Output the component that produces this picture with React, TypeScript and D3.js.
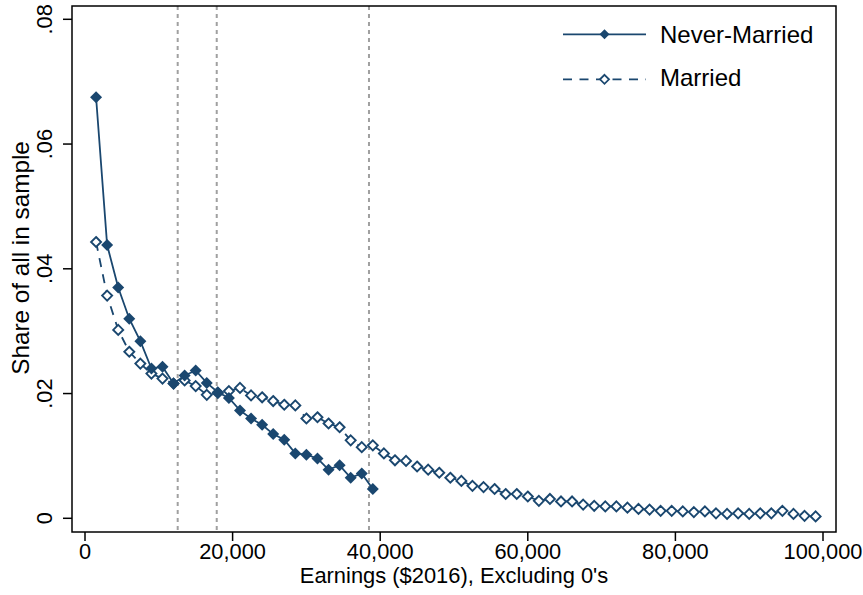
import React from "react";
import * as d3 from "d3";

const earningsBins = [
  1500, 3000, 4500, 6000, 7500, 9000, 10500, 12000, 13500, 15000, 16500, 18000,
  19500, 21000, 22500, 24000, 25500, 27000, 28500, 30000, 31500, 33000, 34500,
  36000, 37500, 39000, 40500, 42000, 43500, 45000, 46500, 48000, 49500, 51000,
  52500, 54000, 55500, 57000, 58500, 60000, 61500, 63000, 64500, 66000, 67500,
  69000, 70500, 72000, 73500, 75000, 76500, 78000, 79500, 81000, 82500, 84000,
  85500, 87000, 88500, 90000, 91500, 93000, 94500, 96000, 97500, 99000,
];

const neverMarried = [
  0.0675, 0.0438, 0.037, 0.032, 0.0284, 0.024, 0.0243, 0.0216, 0.0229, 0.0237,
  0.0217, 0.0202, 0.0193, 0.0173, 0.016, 0.015, 0.0135, 0.0126, 0.0104, 0.0102,
  0.0096, 0.0078, 0.0085, 0.0065, 0.0072, 0.0047,
];

const married = [
  0.0443, 0.0357, 0.0302, 0.0267, 0.0248, 0.0232, 0.0224, 0.0216, 0.0221, 0.0212,
  0.0198, 0.0201, 0.0204, 0.0209, 0.0197, 0.0194, 0.0188, 0.0182, 0.0181, 0.016,
  0.0162, 0.0152, 0.0146, 0.0125, 0.0114, 0.0117, 0.0104, 0.0093, 0.0092, 0.0083,
  0.0078, 0.0073, 0.0065, 0.006, 0.0052, 0.005, 0.0047, 0.0039, 0.0039, 0.0035,
  0.0028, 0.0031, 0.0027, 0.0027, 0.0022, 0.002, 0.0019, 0.0019, 0.0017, 0.0015,
  0.0014, 0.0012, 0.0012, 0.0011, 0.001, 0.0011, 0.0008, 0.0007, 0.0008, 0.0007,
  0.0008, 0.0008, 0.0012, 0.0007, 0.0004, 0.0003,
];

const cutoffs = [12560, 17850, 38480];
const xTicks = [0, 20000, 40000, 60000, 80000, 100000];
const yTicks = [0, 0.02, 0.04, 0.06, 0.08];
const seriesNames = ["Never-Married", "Married"];

const NAVY = "#1a476f";
const FONT = "'Liberation Sans', Arial, sans-serif";

export default function App() {
  const W = 863;
  const H = 595;
  const frame = { l: 72, r: 836, t: 6, b: 532 };
  const x = d3.scaleLinear().domain([0, 100000]).range([85, 823]);
  const y = d3.scaleLinear().domain([0, 0.08]).range([518.3, 19.3]);

  const nmPts = neverMarried.map((v, i) => [earningsBins[i], v] as [number, number]);
  const mPts = married.map((v, i) => [earningsBins[i], v] as [number, number]);
  const line = d3
    .line<[number, number]>()
    .x((d) => x(d[0]))
    .y((d) => y(d[1]));

  const diamond = (cx: number, cy: number, r: number) =>
    `M${cx},${cy - r}L${cx + r},${cy}L${cx},${cy + r}L${cx - r},${cy}Z`;

  const fmtX = d3.format(",");
  const fmtY = (v: number) => (v === 0 ? "0" : d3.format(".2f")(v).replace(/^0/, ""));

  return (
    <svg
      width={W}
      height={H}
      style={{ position: "absolute", left: 0, top: 0, background: "#fff" }}
      fontFamily={FONT}
    >
      <rect x={0} y={0} width={W} height={H} fill="#fff" />
      {cutoffs.map((c) => (
        <line
          key={c}
          x1={x(c)}
          x2={x(c)}
          y1={frame.t}
          y2={frame.b}
          stroke="#a0a0a0"
          strokeWidth={2}
          strokeDasharray="4,4"
        />
      ))}
      <path
        d={line(mPts) || ""}
        fill="none"
        stroke={NAVY}
        strokeWidth={1.8}
        strokeDasharray="9,7.5"
      />
      {mPts.map((p, i) => (
        <path
          key={"m" + i}
          d={diamond(x(p[0]), y(p[1]), 5)}
          fill="#fff"
          stroke={NAVY}
          strokeWidth={1.9}
        />
      ))}
      <path d={line(nmPts) || ""} fill="none" stroke={NAVY} strokeWidth={1.8} />
      {nmPts.map((p, i) => (
        <path key={"n" + i} d={diamond(x(p[0]), y(p[1]), 6)} fill={NAVY} />
      ))}
      <rect
        x={frame.l}
        y={frame.t}
        width={frame.r - frame.l}
        height={frame.b - frame.t}
        fill="none"
        stroke="#000"
        strokeWidth={1.5}
      />
      {yTicks.map((t) => (
        <g key={"y" + t}>
          <line x1={frame.l - 9} x2={frame.l} y1={y(t)} y2={y(t)} stroke="#000" strokeWidth={1.5} />
          <text
            transform={`translate(52,${y(t)}) rotate(-90)`}
            textAnchor="middle"
            fontSize={21.8}
            fill="#000"
          >
            {fmtY(t)}
          </text>
        </g>
      ))}
      {xTicks.map((t) => (
        <g key={"x" + t}>
          <line x1={x(t)} x2={x(t)} y1={frame.b} y2={frame.b + 9} stroke="#000" strokeWidth={1.5} />
          <text x={x(t)} y={559} textAnchor="middle" fontSize={21.8} fill="#000">
            {fmtX(t)}
          </text>
        </g>
      ))}
      <text x={454} y={583} textAnchor="middle" fontSize={21.9} fill="#000">
        Earnings ($2016), Excluding 0's
      </text>
      <text
        transform={`translate(28.5,258) rotate(-90)`}
        textAnchor="middle"
        fontSize={24.3}
        fill="#000"
      >
        Share of all in sample
      </text>
      <line x1={563} x2={646} y1={34.3} y2={34.3} stroke={NAVY} strokeWidth={1.8} />
      <path d={diamond(604.5, 34.3, 5)} fill={NAVY} />
      <text x={660} y={43.3} fontSize={24} fill="#000">
        {seriesNames[0]}
      </text>
      <line
        x1={563}
        x2={646}
        y1={79.3}
        y2={79.3}
        stroke={NAVY}
        strokeWidth={1.8}
        strokeDasharray="9,7.5"
      />
      <path d={diamond(604.5, 79.3, 4.5)} fill="#fff" stroke={NAVY} strokeWidth={1.8} />
      <text x={660} y={86} fontSize={24} fill="#000">
        {seriesNames[1]}
      </text>
    </svg>
  );
}
